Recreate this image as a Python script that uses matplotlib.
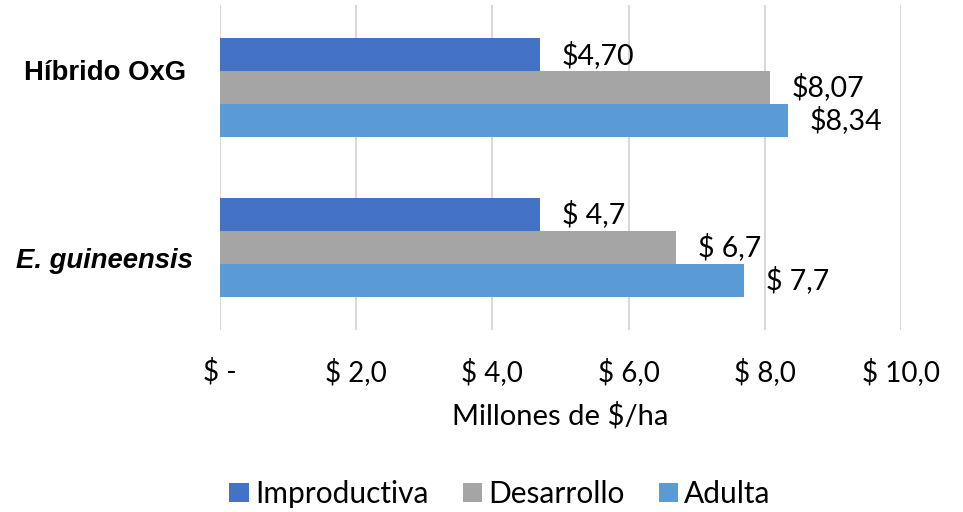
import matplotlib
matplotlib.use("Agg")
import matplotlib.pyplot as plt
import matplotlib.transforms as mtransforms
import numpy as np

categories = ["E. guineensis", "Híbrido OxG"]
series_names = ["Improductiva", "Desarrollo", "Adulta"]
improductiva = [4.7, 4.70]
desarrollo = [6.7, 8.07]
adulta = [7.7, 8.34]
labels_improductiva = ["$ 4,7", "$4,70"]
labels_desarrollo = ["$ 6,7", "$8,07"]
labels_adulta = ["$ 7,7", "$8,34"]
xticks = [0, 2, 4, 6, 8, 10]
xticklabels = ["$ -", "$ 2,0", "$ 4,0", "$ 6,0", "$ 8,0", "$ 10,0"]
colors = ["#4472C4", "#A5A5A5", "#5B9BD5"]

font = "Lato"
fig = plt.figure(figsize=(9.63, 5.12), dpi=100)
ax = fig.add_axes([220/963, 1-330/512, 681/963, 325/512])

y = np.arange(len(categories))
h = 0.206
offsets = [h, 0, -h]
all_vals = [improductiva, desarrollo, adulta]
all_labels = [labels_improductiva, labels_desarrollo, labels_adulta]
for vals, labs, off, c, name in zip(all_vals, all_labels, offsets, colors, series_names):
    bars = ax.barh(y + off, vals, height=h, color=c, label=name, zorder=3)
    for b, lab in zip(bars, labs):
        ax.annotate(lab, (b.get_width(), b.get_y() + b.get_height()/2),
                    xytext=(22, 0), textcoords="offset pixels",
                    ha="left", va="center", fontsize=20.5, family=font, color="black")

ax.set_xlim(0, 10)
ax.set_ylim(-0.516, 1.516)
ax.set_xticks(xticks)
ax.set_xticklabels(xticklabels, fontsize=20, family=font)
ax.tick_params(axis="x", length=0, pad=20)
ax.grid(axis="x", color="#D9D9D9", linewidth=1.5, zorder=0)
ax.set_axisbelow(True)
for s in ax.spines.values():
    s.set_visible(False)

ax.set_yticks(y)
ax.set_yticklabels(categories, fontsize=19.8, family="Liberation Sans", fontweight="bold")
ax.tick_params(axis="y", length=0, pad=83)
shifts = [-11, 18]
for lab, dy in zip(ax.get_yticklabels(), shifts):
    lab.set_horizontalalignment("center")
    lab.set_transform(lab.get_transform() + mtransforms.ScaledTranslation(0, dy/100, fig.dpi_scale_trans))
ax.get_yticklabels()[0].set_fontstyle("italic")

ax.set_xlabel("Millones de $/ha", fontsize=21, family=font, labelpad=12)

leg = fig.legend(loc="center", bbox_to_anchor=(500/963, 1-494/512), ncol=3, frameon=False,
                 prop={"family": font, "size": 21.5}, handlelength=0.65, handleheight=0.65,
                 handletextpad=0.2, columnspacing=1.15)

fig.savefig("out.png", dpi=100)
